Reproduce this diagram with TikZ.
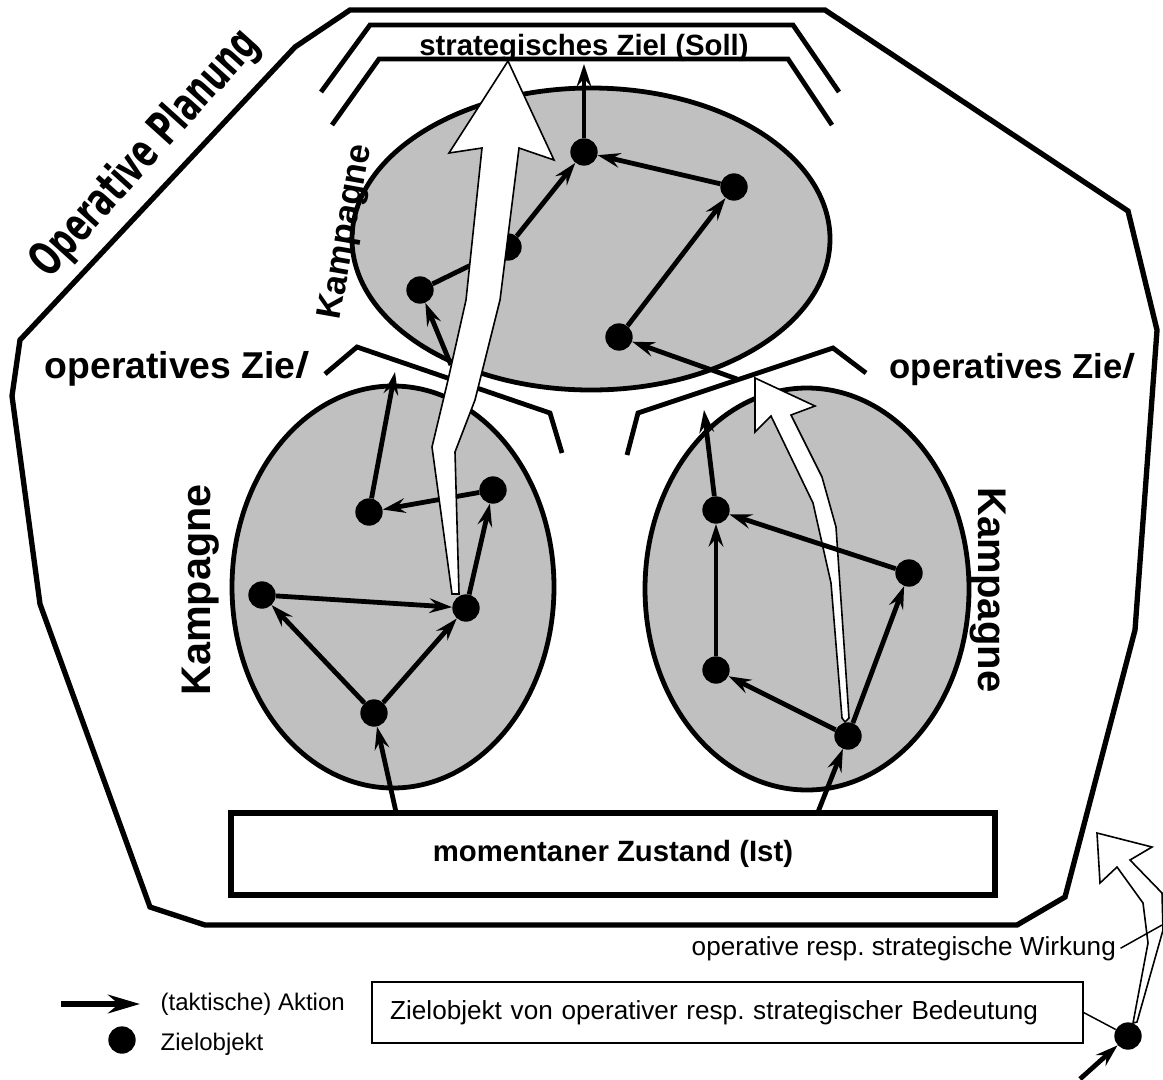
\documentclass[tikz,border=0pt]{standalone}
\usepackage{fontspec}
\usepackage{graphicx}
\setmainfont{Liberation Sans}
\newfontfamily\slantfont{Liberation Sans}[FakeSlant=0.3]
\newfontfamily\heavyfont{DejaVu Sans}
\usetikzlibrary{arrows.meta}
\definecolor{campgray}{RGB}{192,192,192}
\frenchspacing
\begin{document}
\begin{tikzpicture}[x=0.75pt,y=-0.75pt,
  dot/.style={circle,fill=black,inner sep=0pt,minimum size=20.5pt},
  act/.style={line width=3.6pt,-{Stealth[length=17pt,width=11pt,inset=6pt]}},
  legact/.style={line width=3.8pt,-{Stealth[length=24pt,width=14pt,inset=8pt]}},
  border/.style={line width=4pt,line join=miter},
  goalline/.style={line width=3.6pt},
  camp/.style={fill=campgray,draw=black,line width=3.6pt},
  bigarrow/.style={fill=white,draw=black,line width=1.2pt,line join=miter},
  leader/.style={line width=1.1pt},
  goaltext/.style={font=\bfseries\fontsize{28}{30}\selectfont},
  goaltextr/.style={font=\bfseries\fontsize{26}{28}\selectfont},
  camptext/.style={font=\bfseries\fontsize{31}{33}\selectfont},
  boxtext/.style={font=\bfseries\fontsize{22}{24}\selectfont},
  plaintext/.style={font=\fontsize{19.6}{22}\selectfont},
  legtext/.style={font=\fontsize{18}{20}\selectfont},
]
\useasboundingbox (0,0) rectangle (1163,1079);

% outer frame: operative planning
\draw[border] (350,10) -- (825,10) -- (1128,211) -- (1157,330) -- (1135,630)
  -- (1065,897) -- (1017,925) -- (205,925) -- (150,907) -- (40,604)
  -- (12,396) -- (20,340) -- (295,47) -- cycle;

% campaigns
\draw[camp] (591,239) ellipse [x radius=239, y radius=151];
\draw[camp] (393,587) ellipse [x radius=161, y radius=201];
\draw[camp] (807,589) ellipse [x radius=162, y radius=201];

% goal brackets
\draw[goalline] (321,92) -- (370,25) -- (793,25) -- (839,92);
\draw[goalline] (332,125) -- (379,59) -- (788,59) -- (832,125);
\draw[goalline] (325,374) -- (357,347) -- (550,413) -- (562,453);
\draw[goalline] (866,373) -- (833,348) -- (638,413) -- (627,455);

% texts
\node[rotate=48,font=\heavyfont\bfseries\fontsize{25}{28}\selectfont] (op) at (146,154) {\scalebox{0.9}[1.4]{Operative Planung}};
\node[anchor=base,boxtext] (soll) at (584,55) {strategisches Ziel (Soll)};
\node[anchor=base west,goaltext] (ozl) at (40,378) {operatives Zie\kern-1.5pt{\slantfont l}};
\node[anchor=base west,goaltextr] (ozr) at (885,378) {operatives Zie\kern-1.5pt{\slantfont l}};
\node[rotate=80,font=\bfseries\fontsize{26}{28}\selectfont] (k1) at (347,232) {Kampagne};
\node[rotate=90,camptext] (k2) at (201,590) {Kampagne};
\node[rotate=-90,font=\bfseries\fontsize{30}{32}\selectfont] (k3) at (988,590) {Kampagne};

% current state box
\node[draw,line width=4pt,minimum width=573pt,minimum height=61.5pt,boxtext] (ist) at (613,854) {momentaner Zustand (Ist)};

% coordinates on goals / box
\coordinate (tA1) at (584,64);
\coordinate (sA4) at (451,365);
\coordinate (sA5) at (737,379);
\coordinate (tB1) at (395,372);
\coordinate (tC1) at (704,410);
\coordinate (sB5) at (396,812);
\coordinate (sC4) at (818,812);

% target objects
\node[dot] (A1) at (584,152) {};
\node[dot] (A2) at (734,187) {};
\node[dot] (A3) at (508,247) {};
\node[dot] (A4) at (420,290) {};
\node[dot] (A5) at (619,337) {};
\node[dot] (B1) at (369,512) {};
\node[dot] (B2) at (493,490) {};
\node[dot] (B3) at (262,595) {};
\node[dot] (B4) at (466,608) {};
\node[dot] (B5) at (374,713) {};
\node[dot] (C1) at (716,510) {};
\node[dot] (C2) at (909,573) {};
\node[dot] (C3) at (716,670) {};
\node[dot] (C4) at (848,736) {};

% actions
\draw[act] (A1) -- (tA1);
\draw[act] (A2) -- (A1);
\draw[act] (A3) -- (A1);
\draw[act] (A4) -- (A3);
\draw[act] (A5) -- (A2);
\draw[act] (sA4) -- (A4);
\draw[act] (sA5) -- (A5);
\draw[act] (sB5) -- (B5);
\draw[act] (B5) -- (B3);
\draw[act] (B5) -- (B4);
\draw[act] (B3) -- (B4);
\draw[act] (B4) -- (B2);
\draw[act] (B2) -- (B1);
\draw[act] (B1) -- (tB1);
\draw[act] (sC4) -- (C4);
\draw[act] (C4) -- (C3);
\draw[act] (C4) -- (C2);
\draw[act] (C3) -- (C1);
\draw[act] (C1) -- (tC1);

% operative / strategic effects (white arrows)
\draw[bigarrow] (508,61) -- (554,160) -- (519,148) -- (500,300) -- (475,400)
  -- (455,452) -- (459,594) -- (452,594) -- (432,447) -- (448,380)
  -- (466,300) -- (482,148) -- (449,153) -- cycle;
\draw[bigarrow] (755,378) -- (815,406) -- (791,415) -- (822,477) -- (836,527)
  -- (849,718) -- (845,722) -- (842,718) -- (831,583) -- (813,503)
  -- (771,416) -- (755,432) -- cycle;

\draw[act] (C2) -- (C1);

% legend
\coordinate (la1) at (61,1004);
\coordinate (la2) at (140,1004);
\draw[legact] (la1) -- (la2);
\node[anchor=base west,legtext] (lt1) at (156,1010) {(taktische) Aktion};
\node[dot] (L) at (122,1040) {};
\node[anchor=base west,legtext] (lt2) at (156,1050) {Zielobjekt};

\node[draw,line width=1.2pt,minimum height=45.75pt,text width=506pt,inner xsep=13.5pt,align=left,plaintext] (legbox) at (727.5,1012.5) {Zielobjekt von operativer resp. strategischer Bedeutung};
\node[anchor=base west,plaintext] (wirk) at (687,955) {operative resp. strategische Wirkung};

\node[dot] (D) at (1128,1036) {};
\coordinate (dIn) at (1080,1079);
\coordinate (wl) at (1162,925);
\draw[bigarrow] (1097,833) -- (1152,847) -- (1130,860) -- (1162,893) -- (1163,930)
  -- (1137,1022) -- (1133,1023) -- (1148,943) -- (1143,903) -- (1117,867)
  -- (1100,883) -- cycle;
\draw[leader] (wirk.east) -- (wl);
\draw[leader] (legbox.east) -- (D);
\draw[act] (dIn) -- (D);
\end{tikzpicture}
\end{document}
